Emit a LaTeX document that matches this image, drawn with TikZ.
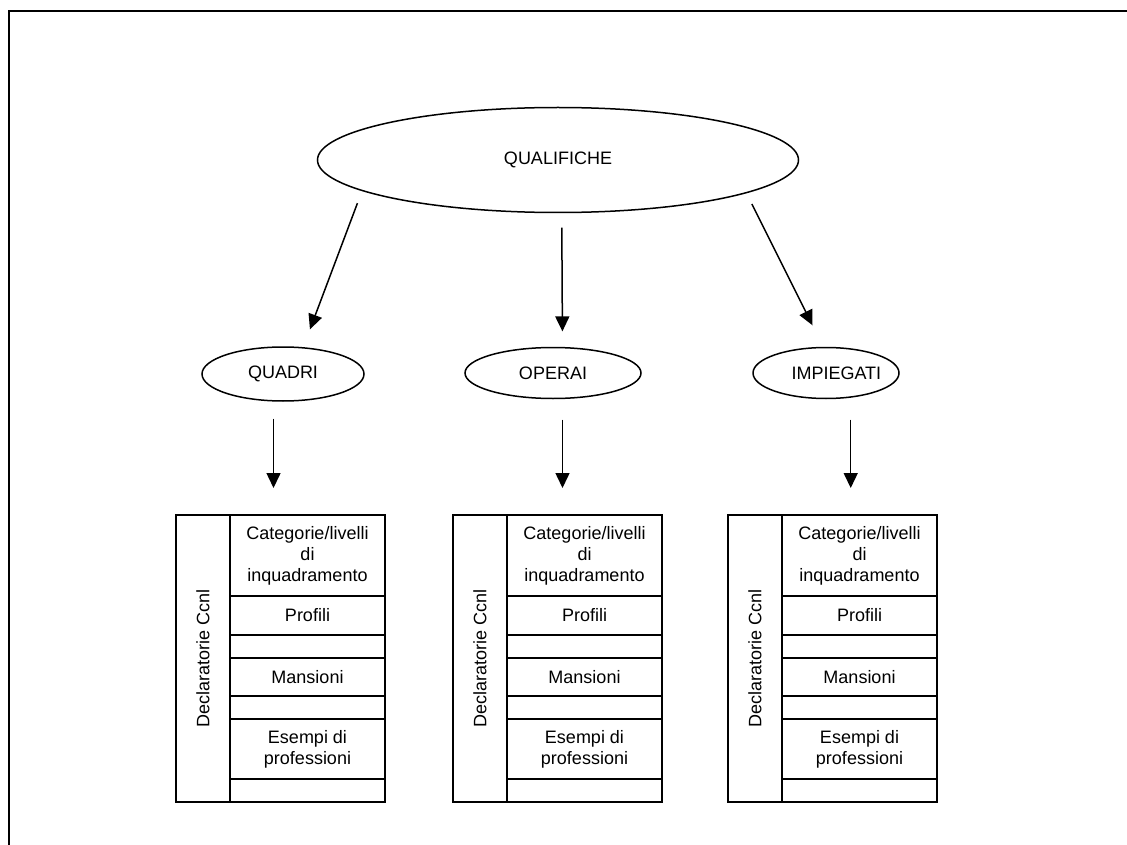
\documentclass[tikz,border=0pt]{standalone}
\usepackage{fontspec}
\setmainfont{Liberation Sans}
\usepackage{graphicx}
\usetikzlibrary{arrows.meta,positioning,shapes.geometric}

\begin{document}
\begin{tikzpicture}[x=1pt, y=-1pt,
    every node/.style={font=\fontsize{18pt}{21pt}\selectfont},
    oval/.style={ellipse, draw, line width=1.5pt, inner sep=0pt},
    arr/.style={-{Triangle[length=15pt,width=14pt]}, line width=1.5pt},
    cellbox/.style={rectangle, draw, line width=2.2pt, minimum width=155pt, inner sep=0pt, outer sep=0pt, align=center},
    declbox/.style={rectangle, draw, line width=2.2pt, minimum width=54pt, minimum height=287pt, inner sep=0pt, outer sep=0pt}]
    \useasboundingbox (0,0) rectangle (1127,845);
    \draw[line width=2.5pt] (9,845) -- (9,11) -- (1127,11);

    \node[oval, minimum width=481pt, minimum height=105pt] (qual) at (558,160) {QUALIFICHE};
    \node[oval, minimum width=162pt, minimum height=54pt] (quadri) at (283,374) {QUADRI};
    \node[oval, minimum width=176pt, minimum height=51pt] (operai) at (553,373) {OPERAI};
    \node[oval, minimum width=146pt, minimum height=51pt] (impiegati) at (826,373) {\makebox[91pt][l]{\hspace{11pt}IMPIEGATI}};

    % tabelle delle declaratorie
    \foreach \nm/\bx in {q/176, o/453, i/728}{
        \node[declbox, anchor=north west] (\nm-decl) at (\bx,515) {\rotatebox{90}{Declaratorie Ccnl}};
        \node[cellbox, minimum height=81pt, anchor=north west] (\nm-c1) at (\nm-decl.north east) {Categorie/livelli\\di\\inquadramento};
        \node[cellbox, minimum height=39pt, below=0pt of \nm-c1] (\nm-c2) {Profili};
        \node[cellbox, minimum height=23pt, below=0pt of \nm-c2] (\nm-c3) {};
        \node[cellbox, minimum height=38pt, below=0pt of \nm-c3] (\nm-c4) {Mansioni};
        \node[cellbox, minimum height=23pt, below=0pt of \nm-c4] (\nm-c5) {};
        \node[cellbox, minimum height=60pt, below=0pt of \nm-c5] (\nm-c6) {Esempi di\\professioni};
        \node[cellbox, minimum height=23pt, below=0pt of \nm-c6] (\nm-c7) {};
    }

    \draw[arr, shorten <=13pt, shorten >=19pt] (qual.189) -- (quadri.53);
    \draw[arr, shorten <=14.5pt, shorten >=15.5pt] (qual.274) -- (operai.70);
    \draw[arr, shorten <=12pt, shorten >=24pt] (qual.350) -- (impiegati.96);

    \draw[arr, shorten <=17pt, shorten >=27pt] (quadri.251) -- (quadri.251 |- q-decl.north);
    \draw[arr, shorten <=20.6pt, shorten >=27pt] (operai.290) -- (operai.290 |- o-decl.north);
    \draw[arr, shorten <=22pt, shorten >=27pt] (impiegati.315) -- (impiegati.315 |- i-decl.north);
\end{tikzpicture}
\end{document}
